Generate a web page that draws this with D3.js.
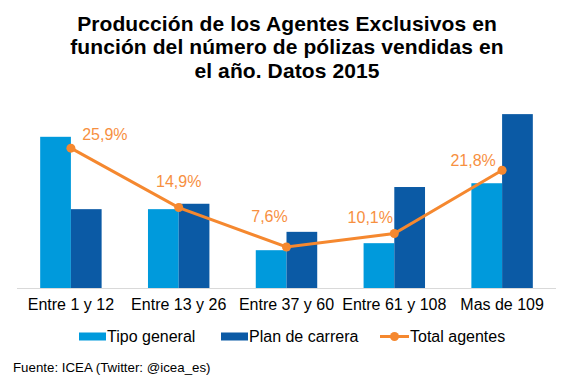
<!DOCTYPE html>
<html>
<head>
<meta charset="utf-8">
<script src="https://cdn.jsdelivr.net/npm/d3@7"></script>
<style>
  body { margin: 0; background: #fff; }
  svg { display: block; font-family: Arial, "Liberation Sans", sans-serif; }
</style>
</head>
<body>
<div id="chart"></div>
<script>
// chart data
const categories = ['Entre 1 y 12', 'Entre 13 y 26', 'Entre 37 y 60', 'Entre 61 y 108', 'Mas de 109'];
const tipoGeneral = [28.0, 14.6, 7.0, 8.3, 19.4];
const planCarrera = [14.6, 15.6, 10.4, 18.7, 32.2];
const totalAgentes = [25.9, 14.9, 7.6, 10.1, 21.8];
const seriesNames = ['Tipo general', 'Plan de carrera', 'Total agentes'];
const titleLines = [
    'Producción de los Agentes Exclusivos en',
    'función del número de pólizas vendidas en',
    'el año. Datos 2015'
];
const source = 'Fuente: ICEA (Twitter: @icea_es)';

const width = 567;
const height = 378;
const colors = ['#009ADC', '#0B5AA5', '#F5882F'];

const svg = d3.select('#chart')
              .append('svg')
              .attr('width', width)
              .attr('height', height);

// title
svg.append('g')
   .selectAll('text')
   .data(titleLines)
   .enter()
   .append('text')
   .attr('x', 287)
   .attr('y', (d, i) => 31 + i * 23.3)
   .attr('text-anchor', 'middle')
   .style('font-size', '21px')
   .style('font-weight', 'bold')
   .style('letter-spacing', '0.1px')
   .style('fill', '#000')
   .text((d) => d);

// scales
const x = d3.scaleBand()
            .domain(categories)
            .range([17, 556])
            .paddingInner(0.43)
            .paddingOuter(0.215);

const xSub = d3.scaleBand()
               .domain([0, 1])
               .range([0, x.bandwidth()]);

const y = d3.scaleLinear()
            .domain([0, 35])
            .range([288, 99]);

// bars
const bars = svg.append('g');
[tipoGeneral, planCarrera].forEach((series, s) => {
    bars.selectAll('.bar-' + s)
        .data(series)
        .enter()
        .append('rect')
        .attr('class', 'bar-' + s)
        .attr('x', (d, i) => x(categories[i]) + xSub(s))
        .attr('y', (d) => y(d))
        .attr('width', xSub.bandwidth())
        .attr('height', (d) => y(0) - y(d))
        .style('fill', colors[s]);
});

// x axis
const xAxis = svg.append('g')
                 .attr('transform', `translate(0, ${y(0)})`)
                 .call(d3.axisBottom(x).tickSize(0).tickPadding(11));
xAxis.select('.domain').attr('stroke', '#D9D9D9').attr('d', 'M17,0.5H556');
xAxis.selectAll('text')
     .style('font-size', '16px')
     .style('fill', '#000')
     .style('font-family', 'Arial, "Liberation Sans", sans-serif');

// total line
const cx = (d, i) => x(categories[i]) + x.bandwidth() / 2;
const line = d3.line()
               .x(cx)
               .y((d) => y(d));

svg.append('path')
   .datum(totalAgentes)
   .attr('d', line)
   .style('fill', 'none')
   .style('stroke', colors[2])
   .style('stroke-width', 3);

svg.selectAll('.dot')
   .data(totalAgentes)
   .enter()
   .append('circle')
   .attr('class', 'dot')
   .attr('cx', cx)
   .attr('cy', (d) => y(d))
   .attr('r', 4.5)
   .style('fill', colors[2]);

// data labels, placed by hand like the original
const labelShift = [[34, -8], [0, -21], [-17, -25], [-24, -10], [-29, -4]];
svg.selectAll('.label')
   .data(totalAgentes)
   .enter()
   .append('text')
   .attr('class', 'label')
   .attr('x', (d, i) => cx(d, i) + labelShift[i][0])
   .attr('y', (d, i) => y(d) + labelShift[i][1])
   .attr('text-anchor', 'middle')
   .style('font-size', '16px')
   .style('fill', '#F7903F')
   .text((d) => d.toFixed(1).replace('.', ',') + '%');

// legend
const legendX = [79, 221, 380];
const legend = svg.append('g')
                  .selectAll('g')
                  .data(seriesNames)
                  .enter()
                  .append('g')
                  .attr('transform', (d, i) => `translate(${legendX[i]}, 336.5)`);

legend.each(function(d, i) {
    const g = d3.select(this);
    if (i < 2) {
        g.append('rect')
         .attr('x', 0)
         .attr('y', -4)
         .attr('width', 27)
         .attr('height', 8)
         .style('fill', colors[i]);
    } else {
        g.append('line')
         .attr('x1', 0)
         .attr('x2', 29)
         .style('stroke', colors[2])
         .style('stroke-width', 3);
        g.append('circle')
         .attr('cx', 14.5)
         .attr('r', 4.5)
         .style('fill', colors[2]);
    }
});

legend.append('text')
      .attr('x', (d, i) => i < 2 ? 28 : 30)
      .attr('y', 5.5)
      .style('font-size', '16px')
      .style('fill', '#000')
      .text((d) => d);

// source
svg.append('text')
   .attr('x', 13)
   .attr('y', 371.5)
   .style('font-size', '13.3px')
   .style('fill', '#000')
   .text(source);
</script>
</body>
</html>
